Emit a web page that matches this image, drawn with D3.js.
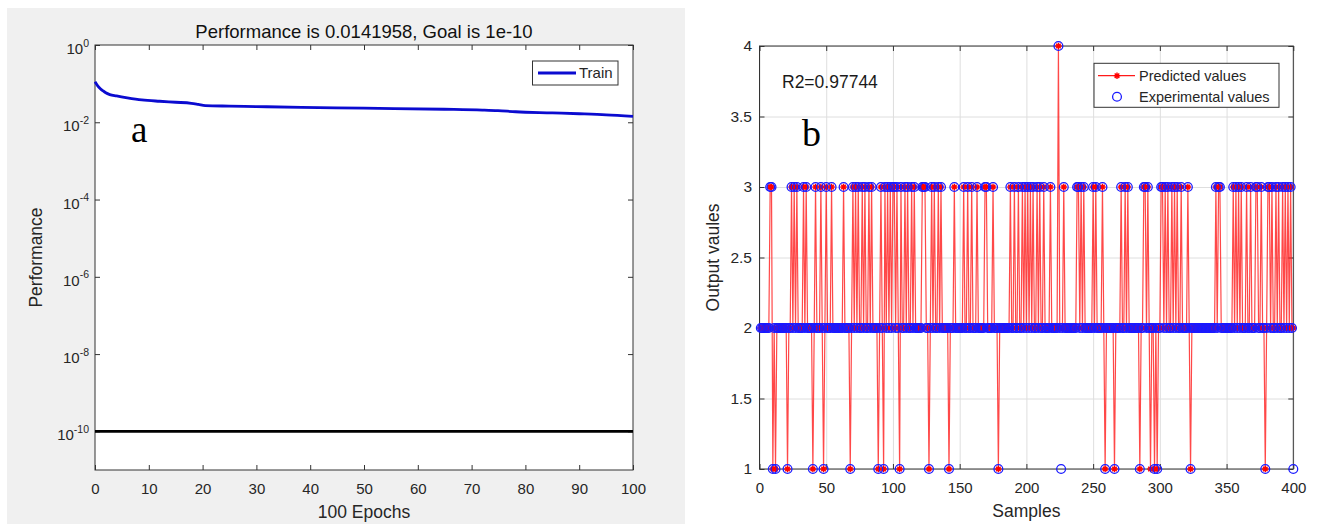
<!DOCTYPE html>
<html><head><meta charset="utf-8">
<script src="https://cdn.jsdelivr.net/npm/d3@7"></script>
<style>
body{margin:0;background:#fff;}
svg{display:block;}
</style>
</head><body>
<svg id="c" width="1317" height="524" font-family='"Liberation Sans",Arial,Helvetica,sans-serif'></svg>
<script>
// ---------- Panel (a): training performance ----------
const trainEpochs = [0, 0.5, 1, 1.5, 2, 2.75, 4, 6, 8.7, 12, 15, 17.9, 19.2, 20.5, 25, 30, 38.4, 50, 64.9, 72, 74.9, 78.2, 85, 90, 95, 100];
const trainPerf   = [0.112, 0.088, 0.074, 0.065, 0.058, 0.052, 0.048, 0.043, 0.038, 0.035, 0.033, 0.031, 0.029, 0.027, 0.0262, 0.0255, 0.0244, 0.0232, 0.0217, 0.0207, 0.0200, 0.0187, 0.0175, 0.0166, 0.0156, 0.0142];
const goalValue = 1e-10;
const epochTicks = [0, 10, 20, 30, 40, 50, 60, 70, 80, 90, 100];
const perfTickExps = [0, -2, -4, -6, -8, -10];
const titleA = "Performance is 0.0141958, Goal is 1e-10";

// ---------- Panel (b): predicted vs experimental ----------
const sampleCount = 400;
const baseLevel = 2;
const samplesAt3 = [8, 9, 24, 26, 28, 33, 35, 42, 46, 50, 54, 63, 70, 72, 74, 77, 79, 82, 84, 91, 94, 96, 98, 100, 101, 103, 106, 109, 111, 114, 116, 122, 123, 124, 129, 131, 134, 136, 146, 153, 156, 159, 163, 169, 170, 175, 188, 191, 194, 197, 199, 201, 203, 205, 208, 210, 213, 218, 228, 238, 239, 241, 243, 250, 252, 257, 271, 274, 276, 288, 289, 291, 301, 302, 304, 306, 309, 311, 313, 316, 321, 342, 344, 345, 355, 357, 359, 361, 365, 368, 372, 373, 376, 381, 382, 384, 387, 389, 392, 394, 396, 398];
const samplesAt1 = [10, 12, 21, 40, 48, 68, 89, 93, 105, 127, 142, 179, 259, 266, 285, 296, 298, 323, 379];
const samplesAt4 = [224];
const experimentalOnlyAt1 = [226, 400];   // experimental = 1, predicted = 2
const predictedOnlyAt1 = [293];           // predicted = 1, experimental = 2
const sampleTicks = [0, 50, 100, 150, 200, 250, 300, 350, 400];
const outputTicks = [1, 1.5, 2, 2.5, 3, 3.5, 4];
const r2Text = "R2=0.97744";

// build series
const predicted = [], experimental = [];
for (let s = 1; s <= sampleCount; s++) { predicted.push({s, v: baseLevel}); experimental.push({s, v: baseLevel}); }
samplesAt3.forEach(s => { predicted[s-1].v = 3; experimental[s-1].v = 3; });
samplesAt1.forEach(s => { predicted[s-1].v = 1; experimental[s-1].v = 1; });
samplesAt4.forEach(s => { predicted[s-1].v = 4; experimental[s-1].v = 4; });
experimentalOnlyAt1.forEach(s => { experimental[s-1].v = 1; });
predictedOnlyAt1.forEach(s => { predicted[s-1].v = 1; });

const svg = d3.select("#c");
const AX = "#333333", TXT = "#262626";
const SANS = '"Liberation Sans",Arial,Helvetica,sans-serif';
const SERIF = '"Liberation Serif","Times New Roman",Times,serif';

// ================= Panel A =================
svg.append("rect").attr("x", 7).attr("y", 8).attr("width", 678).attr("height", 516).attr("fill", "#f0f0f0");
const A = {x0: 95, x1: 633, y0: 45, y1: 470};
const xa = d3.scaleLinear().domain([0, 100]).range([A.x0, A.x1]);
const ya = d3.scaleLog().domain([1e-11, 1]).range([A.y1, A.y0]);
const ga = svg.append("g");
ga.append("rect").attr("x", A.x0).attr("y", A.y0).attr("width", A.x1 - A.x0).attr("height", A.y1 - A.y0).attr("fill", "#fff");

function styleAxis(g, fs) {
  g.select(".domain").remove();
  g.selectAll(".tick line").attr("stroke", AX);
  g.selectAll(".tick text").attr("fill", TXT).attr("font-size", fs).attr("font-family", SANS);
}
// bottom
ga.append("g").attr("transform", `translate(0,${A.y1})`)
  .call(d3.axisBottom(xa).tickValues(epochTicks).tickSizeInner(-5).tickSizeOuter(0).tickPadding(13).tickFormat(d3.format("d")))
  .call(g => styleAxis(g, 15));
// top
ga.append("g").attr("transform", `translate(0,${A.y0})`)
  .call(d3.axisTop(xa).tickValues(epochTicks).tickSizeInner(-5).tickSizeOuter(0).tickFormat(""))
  .call(g => styleAxis(g, 15));
// left (log with superscripts)
const perfTicks = perfTickExps.map(e => Math.pow(10, e));
ga.append("g").attr("transform", `translate(${A.x0},0)`)
  .call(d3.axisLeft(ya).tickValues(perfTicks).tickSizeInner(-5).tickSizeOuter(0).tickPadding(6).tickFormat(() => ""))
  .call(g => styleAxis(g, 15))
  .call(g => g.selectAll(".tick text").each(function(d) {
     const e = Math.round(Math.log10(d));
     const t = d3.select(this);
     t.attr("dy", null).attr("y", 8.5);
     t.append("tspan").text("10");
     t.append("tspan").attr("font-size", "10.5px").attr("dy", -7.5).text(e);
  }));
// right
ga.append("g").attr("transform", `translate(${A.x1},0)`)
  .call(d3.axisRight(ya).tickValues(perfTicks).tickSizeInner(-5).tickSizeOuter(0).tickFormat(""))
  .call(g => styleAxis(g, 15));
// box
ga.append("rect").attr("x", A.x0).attr("y", A.y0).attr("width", A.x1 - A.x0).attr("height", A.y1 - A.y0)
  .attr("fill", "none").attr("stroke", AX).attr("stroke-width", 1);

// goal line
ga.append("line").attr("x1", xa(0)).attr("x2", xa(100)).attr("y1", ya(goalValue)).attr("y2", ya(goalValue))
  .attr("stroke", "#000").attr("stroke-width", 2.8);
// train curve
const trainData = trainEpochs.map((e, i) => ({e, p: trainPerf[i]}));
ga.append("path").datum(trainData)
  .attr("d", d3.line().x(d => xa(d.e)).y(d => ya(d.p)).curve(d3.curveMonotoneX))
  .attr("fill", "none").attr("stroke", "#0b0bd0").attr("stroke-width", 2.8);

// legend
ga.append("rect").attr("x", 532.5).attr("y", 61).attr("width", 85.5).attr("height", 24)
  .attr("fill", "#fff").attr("stroke", AX).attr("stroke-width", 1);
ga.append("line").attr("x1", 538).attr("x2", 576).attr("y1", 73).attr("y2", 73).attr("stroke", "#0b0bd0").attr("stroke-width", 2.8);
ga.append("text").attr("x", 579).attr("y", 78).attr("font-size", 15).attr("fill", TXT).text("Train");

// texts
ga.append("text").attr("x", (A.x0 + A.x1) / 2).attr("y", 37.5).attr("text-anchor", "middle")
  .attr("font-size", 18.5).attr("fill", "#111").text(titleA);
ga.append("text").attr("x", (A.x0 + A.x1) / 2).attr("y", 518).attr("text-anchor", "middle")
  .attr("font-size", 17.5).attr("fill", TXT).text("100 Epochs");
ga.append("text").attr("transform", `translate(41.5,${(A.y0 + A.y1) / 2}) rotate(-90)`).attr("text-anchor", "middle")
  .attr("font-size", 17.5).attr("fill", TXT).text("Performance");
ga.append("text").attr("x", 131).attr("y", 142).attr("font-size", 37)
  .style("font-family", SERIF).attr("fill", "#000").text("a");

// ================= Panel B =================
const B = {x0: 759.5, x1: 1293.3, y0: 46, y1: 469};
const xb = d3.scaleLinear().domain([0, 400]).range([B.x0, B.x1]);
const yb = d3.scaleLinear().domain([1, 4]).range([B.y1, B.y0]);
const gb = svg.append("g");
gb.append("rect").attr("x", B.x0).attr("y", B.y0).attr("width", B.x1 - B.x0).attr("height", B.y1 - B.y0).attr("fill", "#fff");
// grid
gb.append("g").attr("transform", `translate(0,${B.y1})`)
  .call(d3.axisBottom(xb).tickValues(sampleTicks).tickSize(-(B.y1 - B.y0)).tickFormat(""))
  .call(g => { g.select(".domain").remove(); g.selectAll("line").attr("stroke", "#dedede"); });
gb.append("g").attr("transform", `translate(${B.x0},0)`)
  .call(d3.axisLeft(yb).tickValues(outputTicks).tickSize(-(B.x1 - B.x0)).tickFormat(""))
  .call(g => { g.select(".domain").remove(); g.selectAll("line").attr("stroke", "#dedede"); });
// box
gb.append("rect").attr("x", B.x0).attr("y", B.y0).attr("width", B.x1 - B.x0).attr("height", B.y1 - B.y0)
  .attr("fill", "none").attr("stroke", AX).attr("stroke-width", 1);
// axes
gb.append("g").attr("transform", `translate(0,${B.y1})`)
  .call(d3.axisBottom(xb).tickValues(sampleTicks).tickSizeInner(-5).tickSizeOuter(0).tickPadding(13).tickFormat(d3.format("d")))
  .call(g => styleAxis(g, 15));
gb.append("g").attr("transform", `translate(0,${B.y0})`)
  .call(d3.axisTop(xb).tickValues(sampleTicks).tickSizeInner(-5).tickSizeOuter(0).tickFormat(""))
  .call(g => styleAxis(g, 15));
gb.append("g").attr("transform", `translate(${B.x0},0)`)
  .call(d3.axisLeft(yb).tickValues(outputTicks).tickSizeInner(-5).tickSizeOuter(0).tickPadding(7.5).tickFormat(d3.format("")))
  .call(g => styleAxis(g, 15.5));
gb.append("g").attr("transform", `translate(${B.x1},0)`)
  .call(d3.axisRight(yb).tickValues(outputTicks).tickSizeInner(-5).tickSizeOuter(0).tickFormat(""))
  .call(g => styleAxis(g, 15));

// predicted line
gb.append("path").datum(predicted)
  .attr("d", d3.line().x(d => xb(d.s)).y(d => yb(d.v)))
  .attr("fill", "none").attr("stroke", "#ff1a1a").attr("stroke-width", 1.2).attr("stroke-opacity", 0.8);
// star markers
const starPath = "M-3.2,0L3.2,0M0,-3.2L0,3.2M-2.3,-2.3L2.3,2.3M-2.3,2.3L2.3,-2.3";
gb.append("g").selectAll("path").data(predicted).join("path")
  .attr("transform", d => `translate(${xb(d.s)},${yb(d.v)})`)
  .attr("d", starPath).attr("stroke", "#ff0000").attr("stroke-width", 1.4).attr("fill", "none");
// circles
gb.append("g").selectAll("circle").data(experimental).join("circle")
  .attr("cx", d => xb(d.s)).attr("cy", d => yb(d.v)).attr("r", 4.4)
  .attr("fill", "none").attr("stroke", "#1a1aff").attr("stroke-width", 1.3);

// legend
gb.append("rect").attr("x", 1094).attr("y", 63.3).attr("width", 185).attr("height", 44)
  .attr("fill", "#fff").attr("stroke", AX).attr("stroke-width", 1);
gb.append("line").attr("x1", 1098).attr("x2", 1135).attr("y1", 75.7).attr("y2", 75.7)
  .attr("stroke", "#ff1a1a").attr("stroke-width", 1.2);
gb.append("path").attr("transform", "translate(1117,75.7)").attr("d", starPath)
  .attr("stroke", "#ff0000").attr("stroke-width", 1.4).attr("fill", "none");
gb.append("text").attr("x", 1139).attr("y", 80.7).attr("font-size", 14.5).attr("fill", TXT).text("Predicted values");
gb.append("circle").attr("cx", 1117).attr("cy", 96.7).attr("r", 4.4)
  .attr("fill", "none").attr("stroke", "#1a1aff").attr("stroke-width", 1.3);
gb.append("text").attr("x", 1139).attr("y", 101.7).attr("font-size", 14.5).attr("fill", TXT).text("Experimental values");

// texts
gb.append("text").attr("x", 782).attr("y", 88).attr("font-size", 17.5).attr("fill", "#1a1a1a").text(r2Text);
gb.append("text").attr("x", 802).attr("y", 146).attr("font-size", 38)
  .style("font-family", SERIF).attr("fill", "#000").text("b");
gb.append("text").attr("x", (B.x0 + B.x1) / 2).attr("y", 517).attr("text-anchor", "middle")
  .attr("font-size", 17.5).attr("fill", TXT).text("Samples");
gb.append("text").attr("transform", `translate(719,${(B.y0 + B.y1) / 2}) rotate(-90)`).attr("text-anchor", "middle")
  .attr("font-size", 17.5).attr("fill", TXT).text("Output vaules");
</script>
</body></html>
